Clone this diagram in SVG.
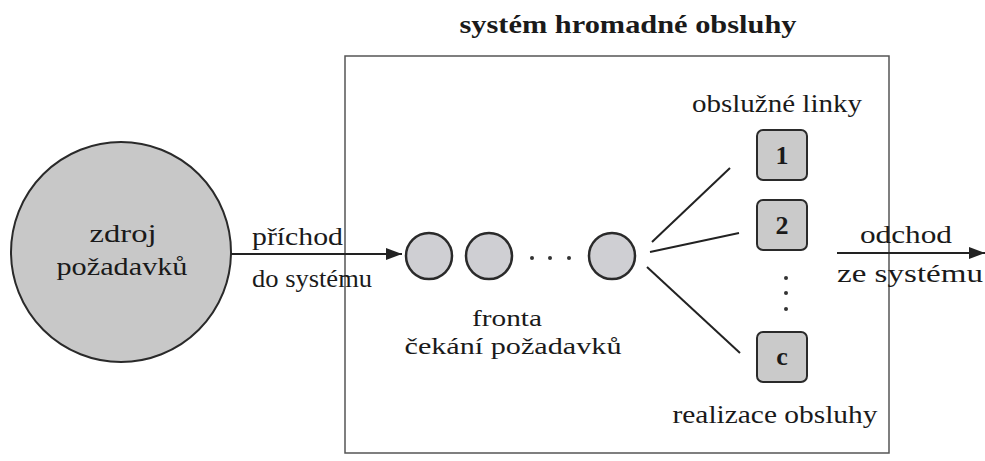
<svg xmlns="http://www.w3.org/2000/svg" width="985" height="461" viewBox="0 0 985 461">
<defs>
<style>
text{font-family:"Liberation Serif","Times New Roman",serif;font-size:26px;fill:#1a1a1a}
.b{font-weight:bold}
.s{font-size:24px}
.q{fill:#cfcfd3;stroke:#2a2a2a;stroke-width:2.5}
.srv{fill:#cacaca;stroke:#2a2a2a;stroke-width:2}
.ln{stroke:#222;stroke-width:2;fill:none}
.dot{fill:#333}
</style>
<marker id="ah" viewBox="0 0 16 12" refX="16" refY="6" markerWidth="16" markerHeight="12" markerUnits="userSpaceOnUse" orient="auto">
<path d="M0,0 L16,6 L0,12 Z" fill="#222"/>
</marker>
</defs>
<rect width="985" height="461" fill="#fff"/>
<g id="system">
<rect x="345" y="56" width="544" height="397" fill="none" stroke="#555" stroke-width="1.5"/>
<text class="b" x="628" y="33" text-anchor="middle" textLength="337" lengthAdjust="spacingAndGlyphs">systém hromadné obsluhy</text>
</g>
<g id="source">
<circle cx="121" cy="252" r="110" fill="#c8c8c8" stroke="#2a2a2a" stroke-width="2"/>
<text x="123" y="242" text-anchor="middle" textLength="67" lengthAdjust="spacingAndGlyphs">zdroj</text>
<text x="122" y="275" text-anchor="middle" textLength="131" lengthAdjust="spacingAndGlyphs">požadavků</text>
</g>
<g id="queue">
<circle class="q" cx="429" cy="256" r="23"/>
<circle class="q" cx="489" cy="256" r="23"/>
<circle class="q" cx="612" cy="256" r="23"/>
<circle class="dot" cx="532" cy="258" r="2"/>
<circle class="dot" cx="550" cy="258" r="2"/>
<circle class="dot" cx="569" cy="258" r="2"/>
<text class="s" x="507" y="326" text-anchor="middle" textLength="70" lengthAdjust="spacingAndGlyphs">fronta</text>
<text class="s" x="513" y="354" text-anchor="middle" textLength="217" lengthAdjust="spacingAndGlyphs">čekání požadavků</text>
</g>
<g id="servers">
<text x="777" y="112" text-anchor="middle" textLength="170" lengthAdjust="spacingAndGlyphs">obslužné linky</text>
<g id="server1"><rect class="srv" x="757" y="130" width="50" height="50" rx="6"/><text class="b" x="782" y="164" text-anchor="middle">1</text></g>
<g id="server2"><rect class="srv" x="757" y="200" width="50" height="50" rx="6"/><text class="b" x="782" y="234" text-anchor="middle">2</text></g>
<circle class="dot" cx="786" cy="278" r="2"/>
<circle class="dot" cx="786" cy="293" r="2"/>
<circle class="dot" cx="786" cy="309" r="2"/>
<g id="serverc"><rect class="srv" x="757" y="332" width="50" height="50" rx="6"/><text class="b" x="782" y="365" text-anchor="middle">c</text></g>
<text x="775" y="423" text-anchor="middle" textLength="205" lengthAdjust="spacingAndGlyphs">realizace obsluhy</text>
</g>
<g id="connectors">
<line class="ln" x1="231" y1="254" x2="402" y2="254" marker-end="url(#ah)"/>
<text x="252" y="245" textLength="91" lengthAdjust="spacingAndGlyphs">příchod</text>
<text x="252" y="287" textLength="120" lengthAdjust="spacingAndGlyphs">do systému</text>
<line class="ln" x1="652" y1="242" x2="730" y2="168"/>
<line class="ln" x1="650" y1="252" x2="739" y2="233"/>
<line class="ln" x1="647" y1="267" x2="740" y2="353"/>
<line class="ln" x1="837" y1="253" x2="985" y2="253" marker-end="url(#ah)"/>
<text x="860" y="243" textLength="92" lengthAdjust="spacingAndGlyphs">odchod</text>
<text x="837" y="282" textLength="146" lengthAdjust="spacingAndGlyphs">ze systému</text>
</g>
</svg>
